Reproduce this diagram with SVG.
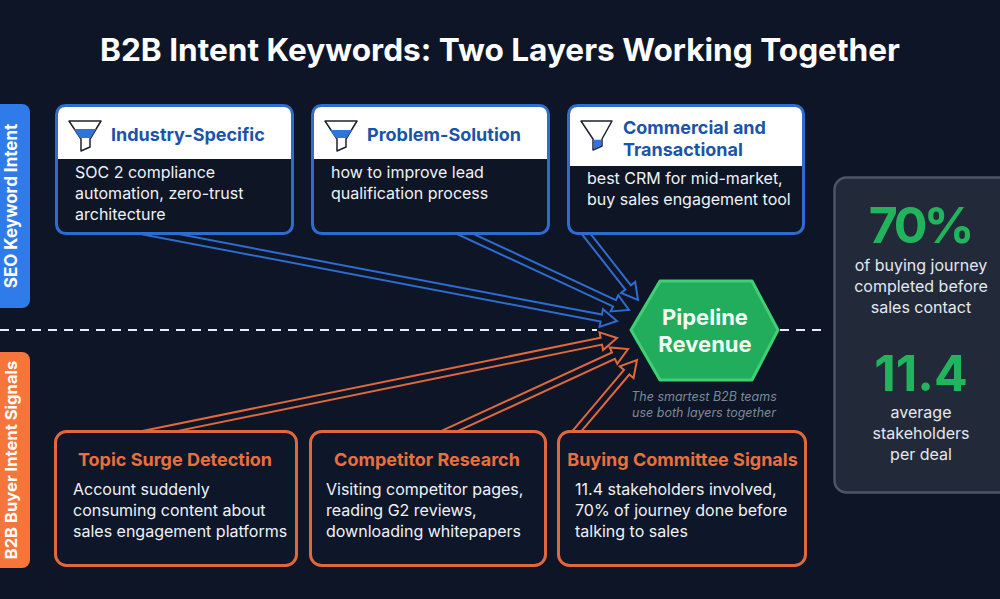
<svg xmlns="http://www.w3.org/2000/svg" width="1000" height="599" viewBox="0 0 1000 599">
<style>
text{font-family:Inter,"Noto Sans","Liberation Sans",sans-serif}
.title{font-size:31.6px;font-weight:700;fill:#fff;text-anchor:middle}
.tab{font-weight:700;fill:#fff;text-anchor:middle}
.kb{fill:#0e1525;stroke:#2f6cd0;stroke-width:3}
.ko{fill:#0e1729;stroke:#e0683c;stroke-width:3}
.hb{font-size:18px;font-weight:700;fill:#1a54a8}
.ho{font-size:18px;font-weight:700;fill:#e96f3e;text-anchor:middle}
.body{font-size:16px;fill:#eef2f7}
.ab{fill:#0d1526;stroke:#2f6cd0;stroke-width:2}
.ao{fill:#0d1526;stroke:#e0683c;stroke-width:2}
.dash{stroke:#e8ecf2;stroke-width:2;stroke-dasharray:9 7}
.fo{fill:#fff;stroke:#1b2230;stroke-width:1.5;stroke-linejoin:round}
.ff{fill:#2f73dd}
.stat{font-size:50px;font-weight:700;fill:#22b45c;text-anchor:middle}
.sl{font-size:16px;fill:#e4e8ee;text-anchor:middle}
.note{font-size:12.5px;font-style:italic;fill:#7d8898;text-anchor:middle}
</style>
<rect width="1000" height="599" fill="#0d1526"/>
<text class="title" x="500" y="61">B2B Intent Keywords: Two Layers Working Together</text>
<g id="connectors">
<line class="dash" x1="0" y1="330" x2="597" y2="330"/>
<line class="dash" x1="780" y1="330" x2="825" y2="330"/>
<path class="ab" d="M-490-3.500H-16V-9L0 0-16 9V3.500H-490Z" transform="translate(617,321) rotate(10.76)"/>
<path class="ab" d="M-200-3.500H-16V-9L0 0-16 9V3.500H-200Z" transform="translate(629,310) rotate(24.9)"/>
<path class="ab" d="M-90-3.500H-16V-9L0 0-16 9V3.500H-90Z" transform="translate(638,300) rotate(51.9)"/>
<path class="ao" d="M-490-3.500H-16V-9L0 0-16 9V3.500H-490Z" transform="translate(617,338) rotate(-11.5)"/>
<path class="ao" d="M-206-3.500H-16V-9L0 0-16 9V3.500H-206Z" transform="translate(628,349) rotate(-24.7)"/>
<path class="ao" d="M-100-3.500H-16V-9L0 0-16 9V3.500H-100Z" transform="translate(637,360) rotate(-49.8)"/>
</g>
<g id="tab-seo">
<path d="M0 104H22a8 8 0 0 1 8 8V300a8 8 0 0 1-8 8H0Z" fill="#2f7bea"/>
<text class="tab" font-size="17" transform="translate(17,206) rotate(-90)">SEO Keyword Intent</text>
</g>
<g id="tab-buyer">
<path d="M0 352H22a8 8 0 0 1 8 8V560a8 8 0 0 1-8 8H0Z" fill="#f5753a"/>
<text class="tab" font-size="16.600" transform="translate(17,460) rotate(-90)">B2B Buyer Intent Signals</text>
</g>
<g id="industry-specific">
<rect class="kb" x="56.500" y="105.500" width="236" height="128" rx="9"/>
<path d="M58 159V114a7 7 0 0 1 7-7H284a7 7 0 0 1 7 7V159Z" fill="#fff"/>
<path class="fo" d="M69 121H101L90 139V147L81 151V139Z"/>
<path class="ff" d="M74 129H96L90.500 138H80Z"/>
<text class="hb" x="111" y="141">Industry-Specific</text>
<text class="body" x="75" y="178">SOC 2 compliance</text>
<text class="body" x="75" y="199">automation, zero-trust</text>
<text class="body" x="75" y="220">architecture</text>
</g>
<g id="problem-solution">
<rect class="kb" x="312.500" y="105.500" width="236" height="128" rx="9"/>
<path d="M314 159V114a7 7 0 0 1 7-7H540a7 7 0 0 1 7 7V159Z" fill="#fff"/>
<path class="fo" d="M325 121H357L346 139V147L337 151V139Z"/>
<path class="ff" d="M330 130H352L346.500 138H336Z"/>
<text class="hb" x="367" y="141">Problem-Solution</text>
<text class="body" x="331" y="178">how to improve lead</text>
<text class="body" x="331" y="199">qualification process</text>
</g>
<g id="commercial-transactional">
<rect class="kb" x="568.500" y="105.500" width="235" height="128" rx="9"/>
<path d="M570 166V114a7 7 0 0 1 7-7H795a7 7 0 0 1 7 7V166Z" fill="#fff"/>
<path class="fo" d="M581 121H612L602 139V146L593 150V139Z"/>
<path class="ff" d="M593.800 139.800H601.200V145.500L593.800 149Z"/>
<text class="hb" x="623" y="134">Commercial and</text>
<text class="hb" x="623" y="156">Transactional</text>
<text class="body" x="587" y="184">best CRM for mid-market,</text>
<text class="body" x="587" y="205">buy sales engagement tool</text>
</g>
<g id="pipeline-revenue">
<path d="M631 330L660 281H752L778 330L752 380H660Z" fill="#22ad5c" stroke="#3fcf74" stroke-width="3" stroke-linejoin="round"/>
<text x="705" y="325" font-size="22" font-weight="700" fill="#f1fbf4" text-anchor="middle">Pipeline</text>
<text x="705" y="352" font-size="22" font-weight="700" fill="#f1fbf4" text-anchor="middle">Revenue</text>
</g>
<g id="note">
<text class="note" x="704" y="401">The smartest B2B teams</text>
<text class="note" x="704" y="417">use both layers together</text>
</g>
<g id="topic-surge">
<rect class="ko" x="55.500" y="431.500" width="241" height="134" rx="11"/>
<text class="ho" x="175" y="466">Topic Surge Detection</text>
<text class="body" x="73" y="495">Account suddenly</text>
<text class="body" x="73" y="516">consuming content about</text>
<text class="body" x="73" y="537">sales engagement platforms</text>
</g>
<g id="competitor-research">
<rect class="ko" x="310.500" y="431.500" width="235" height="134" rx="11"/>
<text class="ho" x="427" y="466">Competitor Research</text>
<text class="body" x="326" y="495">Visiting competitor pages,</text>
<text class="body" x="326" y="516">reading G2 reviews,</text>
<text class="body" x="326" y="537">downloading whitepapers</text>
</g>
<g id="buying-committee">
<rect class="ko" x="558.500" y="431.500" width="247" height="134" rx="11"/>
<text class="ho" x="682.500" y="466" font-size="17.800">Buying Committee Signals</text>
<text class="body" x="575" y="495">11.4 stakeholders involved,</text>
<text class="body" x="575" y="516">70% of journey done before</text>
<text class="body" x="575" y="537">talking to sales</text>
</g>
<g id="stats">
<rect x="834.500" y="177.500" width="180" height="315" rx="12" fill="#222a3a" stroke="#4c5666" stroke-width="2.500"/>
<text class="stat" x="920" y="243" letter-spacing="-3.500">70%</text>
<text class="sl" x="921" y="271">of buying journey</text>
<text class="sl" x="921" y="292">completed before</text>
<text class="sl" x="921" y="313">sales contact</text>
<text class="stat" x="921" y="391">11.4</text>
<text class="sl" x="921" y="418">average</text>
<text class="sl" x="921" y="439">stakeholders</text>
<text class="sl" x="921" y="460">per deal</text>
</g>
</svg>
